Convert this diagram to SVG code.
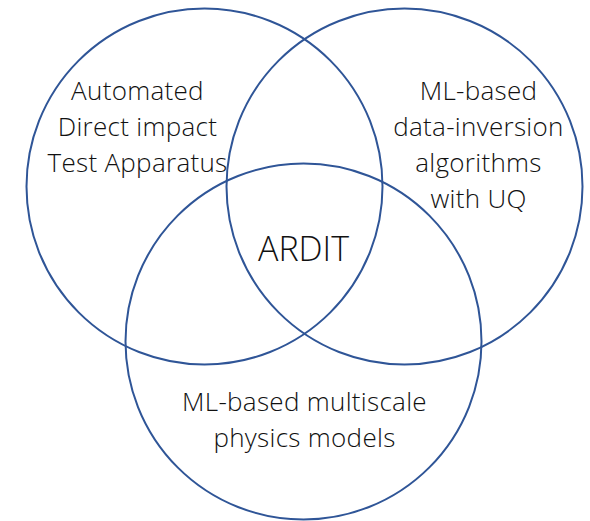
<svg xmlns="http://www.w3.org/2000/svg" width="590" height="521" viewBox="0 0 590 521">
  <style>
    .ring { fill: none; stroke: #2F5597; stroke-width: 2; }
    .lbl { font-family: "Open Sans", "Noto Sans", "Liberation Sans", sans-serif; font-size: 26px; font-weight: 300; letter-spacing: 0.3px; fill: #111111; text-anchor: middle; }
    .core { font-size: 34px; letter-spacing: 0; }
  </style>
  <rect width="590" height="521" fill="#ffffff"/>
  <!-- three overlapping sets, each with its own label -->
  <g id="set-apparatus">
    <circle class="ring" cx="204.5" cy="186.5" r="178"/>
    <text class="lbl" x="137.5" y="100">Automated</text>
    <text class="lbl" x="137.5" y="136">Direct impact</text>
    <text class="lbl" x="137.5" y="172">Test Apparatus</text>
  </g>
  <g id="set-inversion">
    <circle class="ring" cx="404.5" cy="186.5" r="178"/>
    <text class="lbl" x="478.5" y="100">ML-based</text>
    <text class="lbl" x="478.5" y="136">data-inversion</text>
    <text class="lbl" x="478.5" y="172">algorithms</text>
    <text class="lbl" x="478.5" y="208">with UQ</text>
  </g>
  <g id="set-physics">
    <circle class="ring" cx="303.5" cy="341.5" r="178"/>
    <text class="lbl" x="304.5" y="411">ML-based multiscale</text>
    <text class="lbl" x="304.5" y="447">physics models</text>
  </g>
  <!-- shared intersection label -->
  <g id="center">
    <text class="lbl core" x="303.5" y="261">ARDIT</text>
  </g>
</svg>
